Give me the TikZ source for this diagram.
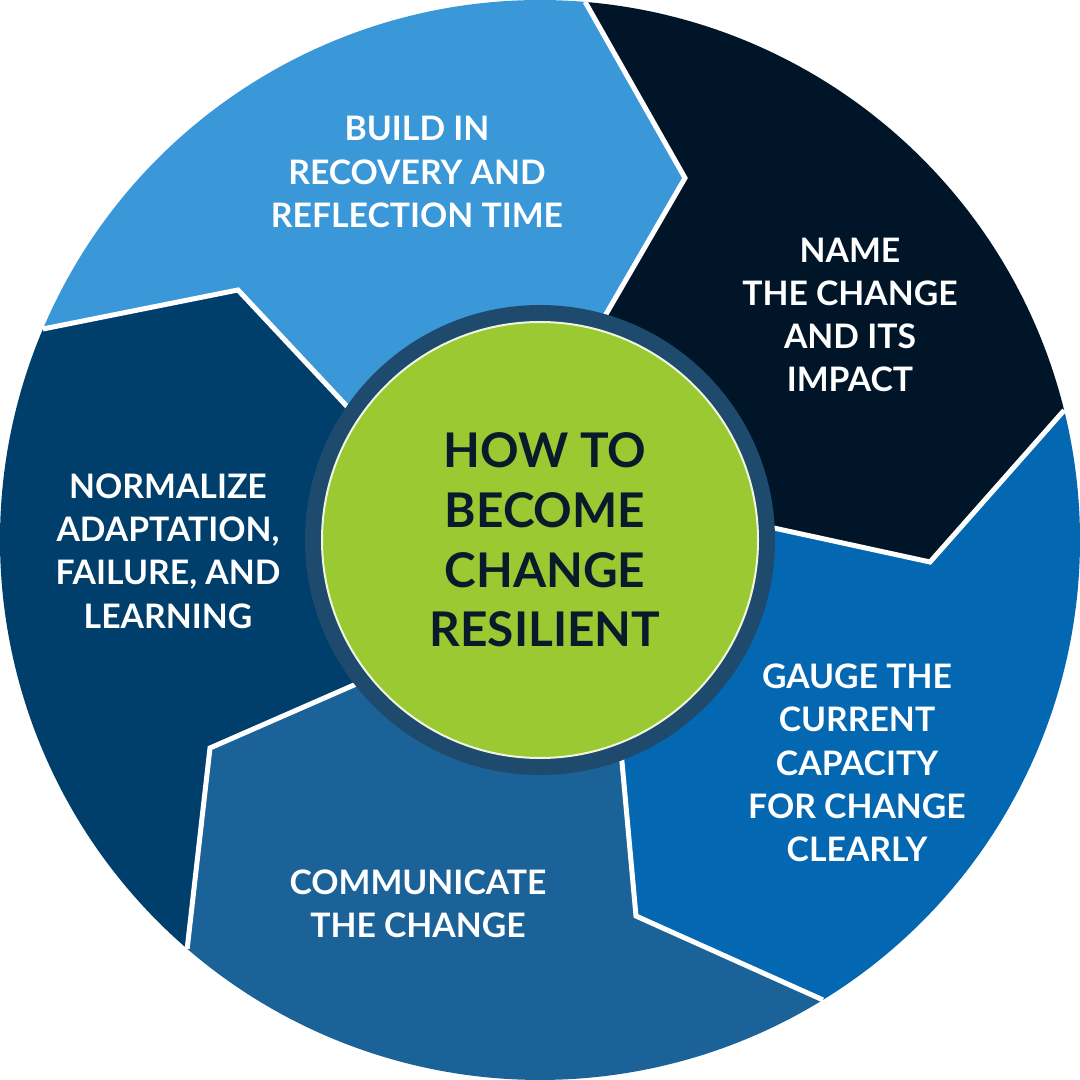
\documentclass[tikz,border=0pt]{standalone}
\usepackage{fontspec}
\setmainfont{Lato}
\definecolor{skyblue}{HTML}{3A97D8}
\definecolor{nightnavy}{HTML}{001628}
\definecolor{brightblue}{HTML}{0467B1}
\definecolor{steelblue}{HTML}{1B6298}
\definecolor{deepblue}{HTML}{003E6B}
\definecolor{ringblue}{HTML}{1E4A6E}
\definecolor{limegreen}{HTML}{9BC932}
\definecolor{inktext}{HTML}{0B1A2B}

\begin{document}
\begin{tikzpicture}[
    segment/.style={font=\bfseries\fontsize{9.6}{12.3}\selectfont, text=white, align=center},
    divider/.style={draw=white, line width=0.05cm, line join=miter}]
  \useasboundingbox (-5.4,-5.4) rectangle (5.4,5.4);

  % zigzag corners
  \coordinate (o1) at (85.2:5.4);  \coordinate (m1) at (1.45,3.62);   \coordinate (i1) at (0.58,2.12);
  \coordinate (o2) at (13.9:5.4);  \coordinate (m2) at (3.90,-0.22);  \coordinate (i2) at (2.20,0.15);
  \coordinate (o3) at (-58.4:5.4); \coordinate (m3) at (0.96,-3.76);  \coordinate (i3) at (0.80,-2.00);
  \coordinate (o4) at (229.2:5.4); \coordinate (m4) at (-3.30,-2.08); \coordinate (i4) at (-1.70,-1.38);
  \coordinate (o5) at (157:5.4);   \coordinate (m5) at (-3.02,2.50);  \coordinate (i5) at (-1.85,1.25);

  % segments
  \fill[nightnavy] (0,0) -- (i1) -- (m1) -- (o1) arc[start angle=85.2, end angle=13.9, radius=5.4] -- (m2) -- (i2) -- cycle;
  \fill[brightblue] (0,0) -- (i2) -- (m2) -- (o2) arc[start angle=13.9, end angle=-58.4, radius=5.4] -- (m3) -- (i3) -- cycle;
  \fill[steelblue] (0,0) -- (i3) -- (m3) -- (o3) arc[start angle=-58.4, end angle=-130.8, radius=5.4] -- (m4) -- (i4) -- cycle;
  \fill[deepblue] (0,0) -- (i4) -- (m4) -- (o4) arc[start angle=229.2, end angle=157, radius=5.4] -- (m5) -- (i5) -- cycle;
  \fill[skyblue] (0,0) -- (i5) -- (m5) -- (o5) arc[start angle=157, end angle=85.2, radius=5.4] -- (m1) -- (i1) -- cycle;

  % dividers
  \foreach \k in {1,...,5}
    \draw[divider] (o\k) -- (m\k) -- (i\k);

  % hub
  \fill[ringblue] (0,0) circle (2.35);
  \node[circle, fill=limegreen, draw=white!85!limegreen, line width=0.02cm, minimum size=4.36cm] (hub) at (0,0) {};
  \node[text=inktext, align=center, font=\bfseries\fontsize{13.6}{17}\selectfont] (title) at (0.05,0)
    {HOW TO\\BECOME\\CHANGE\\RESILIENT};

  % labels
  \node[segment] (recovery) at (-1.23,3.68) {BUILD IN\\RECOVERY AND\\REFLECTION TIME};
  \node[segment] (name) at (3.10,2.25) {NAME\\THE CHANGE\\AND ITS\\IMPACT};
  \node[segment] (gauge) at (3.17,-2.23) {GAUGE THE\\CURRENT\\CAPACITY\\FOR CHANGE\\CLEARLY};
  \node[segment] (communicate) at (-1.22,-3.64) {COMMUNICATE\\THE CHANGE};
  \node[segment] (normalize) at (-3.72,-0.11) {NORMALIZE\\ADAPTATION,\\FAILURE, AND\\LEARNING};
\end{tikzpicture}
\end{document}
